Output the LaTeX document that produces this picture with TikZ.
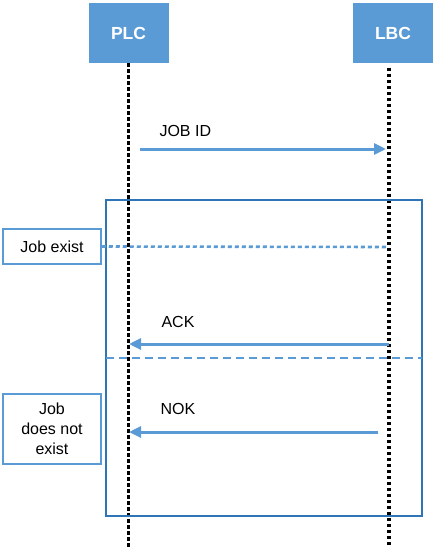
\documentclass[tikz,border=0pt]{standalone}
\usepackage{fontspec}
\setmainfont{Liberation Sans}
\usetikzlibrary{arrows.meta}
\definecolor{msgblue}{HTML}{5B9BD5}
\definecolor{frameblue}{HTML}{2E75B6}
\tikzset{
  actor/.style={fill=msgblue, text=white, font=\bfseries\fontsize{17.5}{20}\selectfont,
    minimum width=80pt, minimum height=60pt, inner sep=0pt},
  lifeline/.style={line width=3.4pt, dash pattern=on 3.4pt off 2.6pt},
  msg/.style={msgblue, line width=3pt, -{Triangle[length=12pt,width=11pt]}},
  note/.style={draw=msgblue, line width=1.5pt, align=center, inner sep=0pt,
    minimum width=98pt, font=\fontsize{16}{20}\selectfont},
  msglabel/.style={anchor=west, font=\fontsize{16}{19}\selectfont}
}
\begin{document}
\begin{tikzpicture}[x=1pt,y=-1pt]
  \useasboundingbox (0,0) rectangle (433,547);
  % actors and lifelines
  \node[actor] (plc) at (128.5,33) {PLC};
  \node[actor] (lbc) at (393,33) {LBC};
  \coordinate (lbctop) at (389,68);
  \draw[lifeline] (plc.south) -- (128.5,547);
  \draw[lifeline] (lbctop) -- (389,547);

  % request
  \coordinate (jobfrom) at (140,149);
  \coordinate (jobto) at (386,149);
  \draw[msg] (jobfrom) -- (jobto);
  \node[msglabel] (joblab) at (156,131) {JOB ID};

  % alternative frame
  \draw[frameblue, line width=1.6pt] (106,200) rectangle (422,516);
  \coordinate (sepl) at (106,358);
  \coordinate (sepr) at (422,358);
  \draw[msgblue, line width=1.8pt, dash pattern=on 8pt off 5pt] (sepl) -- (sepr);

  \node[note, minimum height=35pt] (exist) at (52,246.5) {Job exist};
  \coordinate (existend) at (388,247);
  \draw[msgblue, line width=2.6pt, dash pattern=on 4pt off 3pt] (exist.east) -- (existend);

  \node[note, minimum height=70pt] (noexist) at (52,429) {Job\\does not\\exist};

  % answers
  \coordinate (ackfrom) at (389,344);
  \coordinate (ackto) at (129,344);
  \draw[msg] (ackfrom) -- (ackto);
  \node[msglabel] (acklab) at (158,322) {ACK};

  \coordinate (nokfrom) at (378,432);
  \coordinate (nokto) at (129,432);
  \draw[msg] (nokfrom) -- (nokto);
  \node[msglabel] (noklab) at (157,409) {NOK};
\end{tikzpicture}
\end{document}
